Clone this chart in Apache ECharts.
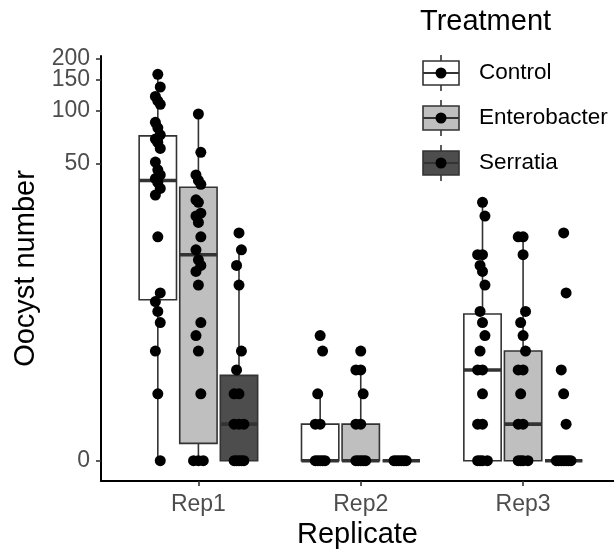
<!DOCTYPE html>
<html>
<head>
<meta charset="utf-8">
<script src="https://cdn.jsdelivr.net/npm/echarts@6/dist/echarts.min.js"></script>
<style>
html,body{margin:0;padding:0;background:#fff;}
#chart{width:614px;height:551px;}
</style>
</head>
<body>
<div id="chart"></div>
<script>
// ---- data ----
const categories = ['Rep1', 'Rep2', 'Rep3'];
const treatments = ['Control', 'Enterobacter', 'Serratia'];
const yTickValues = [0, 50, 100, 150, 200];

// individual observations (oocyst counts)
const controlRep1 = [162, 137, 121, 114, 109, 86, 80, 73, 69, 66, 61, 51, 46, 43, 41, 39, 36, 33, 19, 9, 8, 7, 6, 4, 2, 0];
const controlRep2 = [5, 4, 2, 1, 1, 0, 0, 0, 0, 0];
const controlRep3 = [30, 25, 15, 15, 13, 12, 10, 7, 6, 5, 4, 3, 3, 2, 1, 1, 0, 0, 0, 0];
const enterobacterRep1 = [96, 58, 43, 40, 38, 31, 30, 26, 25, 23, 19, 16, 14, 13, 12, 10, 6, 5, 4, 2, 0, 0, 0];
const enterobacterRep2 = [4, 3, 3, 2, 1, 1, 0, 0, 0, 0, 0];
const enterobacterRep3 = [19, 19, 15, 7, 6, 5, 4, 3, 3, 2, 1, 1, 0, 0, 0, 0];
const serratiaRep1 = [20, 16, 13, 10, 4, 3, 2, 2, 1, 1, 1, 0, 0, 0, 0, 0];
const serratiaRep2 = [0, 0, 0, 0, 0, 0];
const serratiaRep3 = [20, 9, 3, 2, 1, 0, 0, 0, 0, 0, 0, 0];

// box statistics per replicate: [lower whisker, Q1, median, Q3, upper whisker]
const controlBox = [[0, 8.2, 40, 72, 162], [0, 0, 0, 1, 2], [0, 0, 3, 6.75, 30]];
const enterobacterBox = [[0, 0.46, 15, 36.6, 96], [0, 0, 0, 1, 3], [0, 0, 1, 4, 19]];
const serratiaBox = [[0, 0, 1, 2.75, 16], [0, 0, 0, 0, 0], [0, 0, 0, 0, 0]];

const pointsByTreatment = [
  [controlRep1, controlRep2, controlRep3],
  [enterobacterRep1, enterobacterRep2, enterobacterRep3],
  [serratiaRep1, serratiaRep2, serratiaRep3]
];
const boxesByTreatment = [controlBox, enterobacterBox, serratiaBox];
const fills = ['#FFFFFF', '#BFBFBF', '#4D4D4D'];

// ---- pseudo-log transform (asinh(x/2)/ln10) ----
function tf(v) { return Math.asinh(v / 2) / Math.LN10; }
function itf(t) { return 2 * Math.sinh(t * Math.LN10); }

const FONT = 'Liberation Sans, Arial, sans-serif';
const dodge = 0.25, halfW = 0.115;
const dupPattern = [0, -1, 1, -0.5, 0.5, -1.5, 1.5, -0.25, 0.25];
const stagger = [0, 0.5, -0.5];

const series = [];
treatments.forEach((name, j) => {
  const boxData = boxesByTreatment[j].map((b, i) => [i + 1 + (j - 1) * dodge].concat(b.map(tf)));
  series.push({
    type: 'custom',
    name: name,
    z: 2,
    encode: { x: 0, y: [1, 2, 3, 4, 5] },
    data: boxData,
    renderItem: function (params, api) {
      const x = api.value(0);
      const lw = api.value(1), q1 = api.value(2), med = api.value(3), q3 = api.value(4), uw = api.value(5);
      const tl = api.coord([x - halfW, q3]);
      const br = api.coord([x + halfW, q1]);
      const cTop = api.coord([x, uw]);
      const cQ3 = api.coord([x, q3]);
      const cQ1 = api.coord([x, q1]);
      const cBot = api.coord([x, lw]);
      const mY = api.coord([x, med])[1];
      const st = { stroke: '#333333', lineWidth: 1.6 };
      return {
        type: 'group',
        children: [
          { type: 'line', shape: { x1: cTop[0], y1: cTop[1], x2: cQ3[0], y2: cQ3[1] }, style: st },
          { type: 'line', shape: { x1: cQ1[0], y1: cQ1[1], x2: cBot[0], y2: cBot[1] }, style: st },
          { type: 'rect', shape: { x: tl[0], y: tl[1], width: br[0] - tl[0], height: br[1] - tl[1] },
            style: { fill: fills[j], stroke: '#333333', lineWidth: 1.6 } },
          { type: 'line', shape: { x1: tl[0], y1: mY, x2: br[0], y2: mY }, style: { stroke: '#333333', lineWidth: 3.6 } }
        ]
      };
    }
  });
  const pts = [];
  pointsByTreatment[j].forEach((vals, i) => {
    const center = i + 1 + (j - 1) * dodge;
    const seen = {};
    let uniq = 0;
    vals.forEach(v => {
      const k = seen[v] = (seen[v] || 0) + 1;
      let off;
      if (k === 1 && vals.indexOf(v) === vals.lastIndexOf(v)) {
        off = stagger[uniq % 3] * 0.03; uniq++;
      } else {
        off = dupPattern[(k - 1) % dupPattern.length] * 0.03;
      }
      pts.push([center + off, tf(v)]);
    });
  });
  series.push({
    type: 'scatter',
    name: name + ' points',
    z: 3,
    symbol: 'circle',
    symbolSize: 11,
    itemStyle: { color: '#000000', opacity: 1 },
    data: pts,
    silent: true
  });
});

// legend built as graphics
const legendChildren = [{
  type: 'text', left: 420, top: 7,
  style: { text: 'Treatment', font: '29px ' + FONT, fill: '#000' }
}];
treatments.forEach((name, i) => {
  const yc = 73 + 45 * i;
  legendChildren.push(
    { type: 'line', shape: { x1: 441, y1: yc - 18, x2: 441, y2: yc + 18 }, style: { stroke: '#333333', lineWidth: 1.6 } },
    { type: 'rect', shape: { x: 423, y: yc - 12, width: 36, height: 24 }, style: { fill: fills[i], stroke: '#333333', lineWidth: 1.6 } },
    { type: 'line', shape: { x1: 423, y1: yc, x2: 459, y2: yc }, style: { stroke: '#333333', lineWidth: 2 } },
    { type: 'circle', shape: { cx: 441, cy: yc, r: 5.5 }, style: { fill: '#000' } },
    { type: 'text', x: 479, y: yc, style: { text: name, font: '22.5px ' + FONT, fill: '#000', verticalAlign: 'middle', textVerticalAlign: 'middle' } }
  );
});

// split the ticks across two overlaid axes so adjacent labels (150/200) are not auto-hidden
const yTickT = yTickValues.map(tf);
const yTicksA = yTickT.filter((t, i) => i % 2 === 0);
const yTicksB = yTickT.filter((t, i) => i % 2 === 1);
const Y_MIN = -0.116, Y_MAX = 2.314;

function yAxisDef(ticks, withLine, withName) {
  return {
    type: 'value',
    position: 'left',
    min: Y_MIN, max: Y_MAX,
    name: withName ? 'Oocyst number' : '',
    nameLocation: 'middle',
    nameGap: 58,
    nameRotate: 90,
    nameTextStyle: { fontSize: 29, color: '#000', fontFamily: FONT },
    axisLine: { show: withLine, onZero: false, lineStyle: { color: '#000', width: 2 } },
    axisTick: { show: true, customValues: ticks, length: 5, lineStyle: { color: '#333333', width: 1.6 } },
    axisLabel: {
      customValues: ticks, margin: 11, fontSize: 23, color: '#4D4D4D', fontFamily: FONT,
      hideOverlap: false, showMinLabel: true, showMaxLabel: true,
      formatter: v => String(Math.round(itf(v)))
    },
    splitLine: { show: false }
  };
}

const option = {
  backgroundColor: '#ffffff',
  animation: false,
  grid: { left: 101, right: 0, top: 56, bottom: 70, containLabel: false, outerBoundsMode: 'none' },
  xAxis: {
    type: 'value',
    min: 0.4, max: 3.56,
    name: 'Replicate',
    nameLocation: 'middle',
    nameGap: 39,
    nameTextStyle: { fontSize: 29, color: '#000', fontFamily: FONT },
    axisLine: { show: true, onZero: false, lineStyle: { color: '#000', width: 2 } },
    axisTick: { show: true, customValues: [1, 2, 3], length: 5, lineStyle: { color: '#333333', width: 1.6 } },
    axisLabel: {
      customValues: [1, 2, 3], margin: 12, fontSize: 23, color: '#4D4D4D', fontFamily: FONT,
      hideOverlap: false, showMinLabel: true, showMaxLabel: true,
      formatter: v => categories[Math.round(v) - 1]
    },
    splitLine: { show: false }
  },
  yAxis: [yAxisDef(yTicksA, true, true), yAxisDef(yTicksB, false, false)],
  graphic: [{ type: 'group', children: legendChildren }],
  series: series
};

const chart = echarts.init(document.getElementById('chart'), null, { renderer: 'canvas' });
chart.setOption(option);
</script>
</body>
</html>
